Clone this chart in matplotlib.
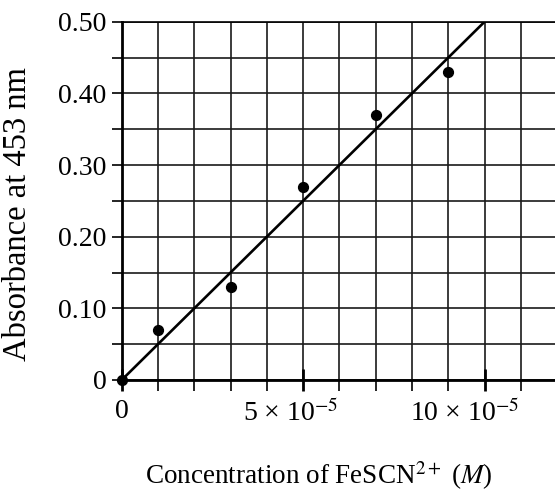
import matplotlib
matplotlib.use("Agg")
import matplotlib.pyplot as plt
import matplotlib.transforms as mtransforms
from matplotlib.ticker import MultipleLocator

plt.rcParams["font.family"] = ["Liberation Serif", "DejaVu Serif"]
plt.rcParams["mathtext.fontset"] = "stix"

# measured points (concentration in M, absorbance)
conc = [0, 1e-5, 3e-5, 5e-5, 7e-5, 9e-5]
absorbance = [0, 0.07, 0.13, 0.27, 0.37, 0.43]

# best-fit line drawn on the graph
fit_conc = [0, 10e-5]
fit_abs = [0, 0.50]

x_ticks = [0, 5e-5, 10e-5]
x_labels = ["0", "5 \u00d7 10$^{-5}$", "10 \u00d7 10$^{-5}$"]
y_ticks = [0, 0.1, 0.2, 0.3, 0.4, 0.5]
y_labels = ["0", "0.10", "0.20", "0.30", "0.40", "0.50"]

fig = plt.figure(figsize=(5.55, 4.94), dpi=100)
ax = fig.add_axes([0.2193, 0.2308, 1.0 - 0.2193, 0.956 - 0.2308])

ax.set_xlim(0, 11.94e-5)
ax.set_ylim(0, 0.5)

# grid every 1e-5 and 0.05
ax.xaxis.set_minor_locator(MultipleLocator(1e-5))
ax.yaxis.set_minor_locator(MultipleLocator(0.05))
ax.set_xticks(x_ticks)
ax.set_xticklabels(x_labels)
ax.set_yticks(y_ticks)
ax.set_yticklabels(y_labels)
ax.grid(which="both", color="#1a1a1a", linewidth=1.2, zorder=0)

ax.plot(fit_conc, fit_abs, color="black", linewidth=1.9, zorder=3)
ax.scatter(conc, absorbance, s=50, color="black", zorder=4, clip_on=False)

ax.spines["right"].set_visible(False)
ax.spines["top"].set_linewidth(1.2)
ax.spines["left"].set_linewidth(2.0)
ax.spines["bottom"].set_linewidth(2.0)

ax.tick_params(axis="y", which="both", direction="out", length=7, width=1.2,
               labelsize=20, pad=4)
ax.tick_params(axis="x", which="minor", direction="out", length=8, width=1.2)
ax.tick_params(axis="x", which="major", direction="inout", length=16, width=2.0,
               labelsize=20, pad=6)

# the printed labels sit a little left of their ticks
shifts = [0, -12, -20]
for lbl, dx in zip(ax.get_xticklabels(), shifts):
    lbl.set_transform(lbl.get_transform() +
                      mtransforms.ScaledTranslation(dx / 100, 0, fig.dpi_scale_trans))

ax.set_ylabel("Absorbance at 453 nm", fontsize=23.5)
ax.yaxis.set_label_coords(-0.205, 0.463)
ax.set_xlabel(r"Concentration of FeSCN$^{2+}$ ($\mathit{M}$)", fontsize=19.5)
ax.xaxis.set_label_coords(0.455, -0.222)

fig.savefig("out.png", dpi=100)
